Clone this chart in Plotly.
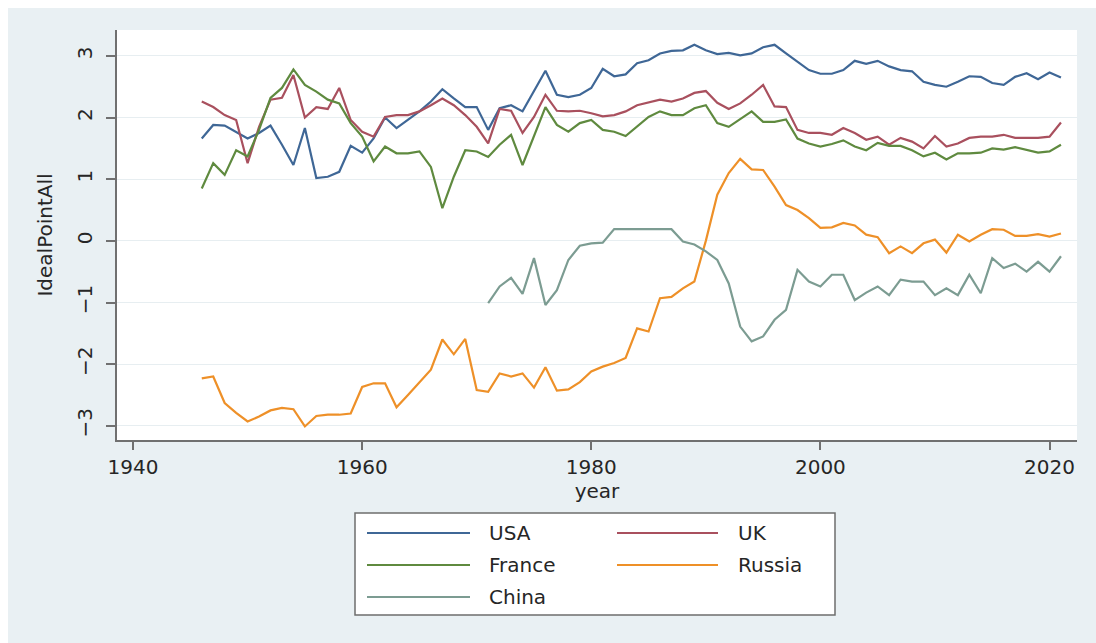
import plotly.graph_objects as go

# Annual ideal-point estimates
years = list(range(1946, 2022))
china_years = list(range(1971, 2022))

usa = [1.66, 1.88, 1.87, 1.77, 1.66, 1.75, 1.87, 1.56, 1.23, 1.83,
       1.02, 1.04, 1.12, 1.54, 1.43, 1.66, 2.00, 1.83, 1.96, 2.10,
       2.26, 2.46, 2.31, 2.17, 2.17, 1.80, 2.15, 2.20, 2.10, 2.42,
       2.76, 2.37, 2.33, 2.37, 2.48, 2.79, 2.67, 2.70, 2.88, 2.93,
       3.04, 3.08, 3.09, 3.18, 3.09, 3.03, 3.05, 3.01, 3.04, 3.14,
       3.18, 3.04, 2.91, 2.77, 2.71, 2.71, 2.77, 2.92, 2.87, 2.92,
       2.83, 2.77, 2.75, 2.58, 2.53, 2.50, 2.58, 2.67, 2.66, 2.56,
       2.53, 2.66, 2.72, 2.62, 2.73, 2.65]

uk = [2.26, 2.17, 2.04, 1.96, 1.26, 1.85, 2.29, 2.32, 2.69, 2.00,
      2.17, 2.14, 2.48, 1.96, 1.77, 1.69, 2.01, 2.04, 2.04, 2.10,
      2.20, 2.31, 2.20, 2.04, 1.85, 1.58, 2.14, 2.11, 1.75, 2.01,
      2.37, 2.11, 2.10, 2.11, 2.07, 2.02, 2.04, 2.10, 2.20, 2.24,
      2.29, 2.26, 2.31, 2.40, 2.43, 2.24, 2.14, 2.23, 2.37, 2.53,
      2.18, 2.17, 1.80, 1.75, 1.75, 1.72, 1.83, 1.75, 1.64, 1.69,
      1.56, 1.67, 1.61, 1.50, 1.70, 1.53, 1.58, 1.67, 1.69, 1.69,
      1.72, 1.67, 1.67, 1.67, 1.69, 1.92]

france = [0.85, 1.26, 1.07, 1.47, 1.37, 1.80, 2.32, 2.48, 2.78, 2.53,
          2.42, 2.29, 2.23, 1.91, 1.69, 1.29, 1.53, 1.42, 1.42, 1.45,
          1.20, 0.53, 1.04, 1.47, 1.45, 1.36, 1.56, 1.72, 1.23, 1.70,
          2.17, 1.88, 1.77, 1.91, 1.96, 1.80, 1.77, 1.70, 1.86, 2.01,
          2.10, 2.04, 2.04, 2.15, 2.20, 1.91, 1.85, 1.97, 2.10, 1.93,
          1.93, 1.97, 1.66, 1.58, 1.53, 1.57, 1.63, 1.53, 1.47, 1.59,
          1.54, 1.54, 1.47, 1.37, 1.43, 1.32, 1.42, 1.42, 1.43, 1.50,
          1.48, 1.52, 1.47, 1.43, 1.45, 1.56]

russia = [-2.23, -2.20, -2.63, -2.79, -2.93, -2.85, -2.75, -2.71, -2.73, -3.01,
          -2.84, -2.82, -2.82, -2.80, -2.37, -2.31, -2.31, -2.70, -2.50, -2.30,
          -2.09, -1.60, -1.84, -1.59, -2.42, -2.45, -2.15, -2.20, -2.15, -2.38,
          -2.05, -2.43, -2.41, -2.29, -2.12, -2.04, -1.98, -1.90, -1.42, -1.47,
          -0.93, -0.91, -0.77, -0.66, 0.00, 0.75, 1.10, 1.33, 1.16, 1.15,
          0.88, 0.58, 0.50, 0.37, 0.21, 0.22, 0.29, 0.25, 0.10, 0.06,
          -0.20, -0.09, -0.20, -0.04, 0.02, -0.19, 0.10, -0.01, 0.10, 0.19,
          0.18, 0.08, 0.08, 0.11, 0.07, 0.12]

china = [-1.01, -0.74, -0.60, -0.86, -0.28, -1.04, -0.80, -0.31, -0.08, -0.04,
         -0.03, 0.19, 0.19, 0.19, 0.20, 0.20, 0.19, -0.01, -0.06, -0.17,
         -0.31, -0.69, -1.39, -1.63, -1.55, -1.28, -1.12, -0.47, -0.66, -0.74,
         -0.55, -0.55, -0.96, -0.84, -0.74, -0.88, -0.63, -0.66, -0.66, -0.88,
         -0.77, -0.88, -0.55, -0.85, -0.28, -0.44, -0.37, -0.50, -0.34, -0.50,
         -0.25]

series_names = ["USA", "UK", "France", "Russia", "China"]
series_x = [years, years, years, years, china_years]
series_y = [usa, uk, france, russia, china]
series_colors = ["#3f6796", "#a9505e", "#5f8a3f", "#ee9028", "#7c9c92"]

x_ticks = [1940, 1960, 1980, 2000, 2020]
y_ticks = [-3, -2, -1, 0, 1, 2, 3]

W, H = 1096, 643
ML, MR, MT, MB = 117, 19, 30, 203
PW, PH = W - ML - MR, H - MT - MB

FONT = "DejaVu Sans"
FS = 20
TEXT = "#262626"
AXIS = "#707070"
BG = "#e9f0f3"


def px_x(p):
    return (p - ML) / PW


def px_y(p):
    return (H - MB - p) / PH


fig = go.Figure()
for name, xs, ys, col in zip(series_names, series_x, series_y, series_colors):
    fig.add_trace(go.Scatter(x=xs, y=ys, mode="lines", name=name,
                             line=dict(color=col, width=2.2),
                             showlegend=False))

shapes = []
annotations = []

# white strips along the top and left edges of the page
shapes.append(dict(type="rect", xref="paper", yref="paper", layer="above",
                   x0=px_x(0), x1=px_x(W), y0=px_y(8), y1=px_y(0),
                   fillcolor="white", line=dict(width=0)))
shapes.append(dict(type="rect", xref="paper", yref="paper", layer="above",
                   x0=px_x(0), x1=px_x(8), y0=px_y(H), y1=px_y(0),
                   fillcolor="white", line=dict(width=0)))

# legend box
lx0, lx1, ly0, ly1 = 355, 835, 513, 615
shapes.append(dict(type="rect", xref="paper", yref="paper",
                   x0=px_x(lx0), x1=px_x(lx1), y0=px_y(ly1), y1=px_y(ly0),
                   fillcolor="white", line=dict(color="#6e6e6e", width=1.5)))
cols = [(367, 470, 487), (617, 718, 736)]
rows = [533, 565, 597]
for i, (name, col) in enumerate(zip(series_names, series_colors)):
    c0, c1, tx = cols[i % 2]
    ry = rows[i // 2]
    shapes.append(dict(type="line", xref="paper", yref="paper",
                       x0=px_x(c0), x1=px_x(c1), y0=px_y(ry), y1=px_y(ry),
                       line=dict(color=col, width=2.2)))
    annotations.append(dict(xref="paper", yref="paper", x=px_x(tx), y=px_y(ry),
                            text=name, showarrow=False, xanchor="left",
                            yanchor="middle",
                            font=dict(family=FONT, size=FS, color=TEXT)))

fig.update_layout(
    width=W, height=H,
    margin=dict(l=ML, r=MR, t=MT, b=MB, autoexpand=False),
    paper_bgcolor=BG,
    plot_bgcolor="white",
    font=dict(family=FONT, size=FS, color=TEXT),
    shapes=shapes,
    annotations=annotations,
    xaxis=dict(
        range=[1938.6, 2022.4],
        tickmode="array", tickvals=x_ticks,
        ticks="outside", ticklen=8, tickwidth=1.5, tickcolor=AXIS,
        showline=True, linecolor=AXIS, linewidth=1.5,
        showgrid=False, zeroline=False,
        tickfont=dict(family=FONT, size=FS, color=TEXT),
        title=dict(text="year", standoff=6,
                   font=dict(family=FONT, size=FS, color=TEXT)),
        automargin=False,
    ),
    yaxis=dict(
        range=[-3.23, 3.42],
        tickmode="array", tickvals=y_ticks,
        ticks="outside", ticklen=9, tickwidth=1.5, tickcolor=AXIS,
        tickangle=-90, ticklabelstandoff=6,
        showline=True, linecolor=AXIS, linewidth=1.5,
        showgrid=True, gridcolor="#e7eef1", gridwidth=1,
        zeroline=False,
        tickfont=dict(family=FONT, size=FS, color=TEXT),
        title=dict(text="IdealPointAll", standoff=15,
                   font=dict(family=FONT, size=FS, color=TEXT)),
        automargin=False,
    ),
)

fig.write_html("out.html")
